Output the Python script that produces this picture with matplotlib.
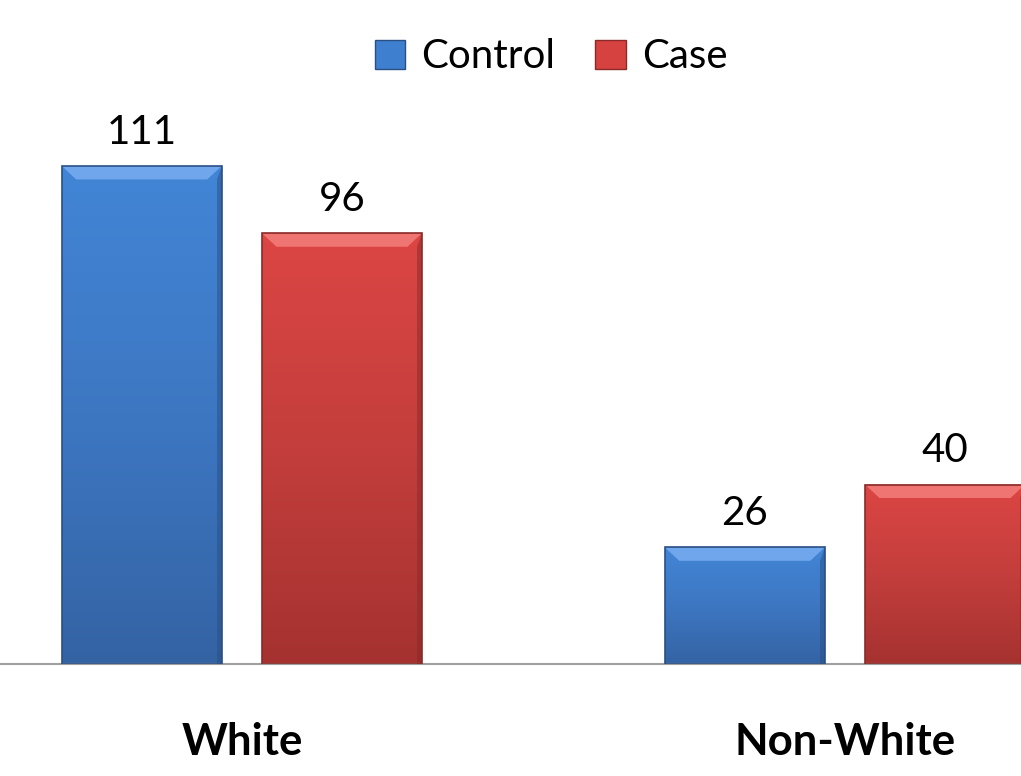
import numpy as np
import matplotlib.pyplot as plt
from matplotlib.patches import Patch, Polygon
from matplotlib.colors import LinearSegmentedColormap

categories = ['White', 'Non-White']
control = [111, 26]
case = [96, 40]

plt.rcParams['font.family'] = ['Lato', 'DejaVu Sans']

fig = plt.figure(figsize=(10.21, 7.76), dpi=100)
ax = fig.add_axes([0, 0.1443, 1, 0.8557])

x = np.arange(len(categories))
width = 0.265
off = 0.166

blue_cmap = LinearSegmentedColormap.from_list('b', ['#3463a4', '#3d77c2', '#4285d6'])
red_cmap = LinearSegmentedColormap.from_list('r', ['#a53230', '#c33e3c', '#dc4644'])


def fancy_bars(xs, vals, cmap, edge, light):
    bars = ax.bar(xs, vals, width, color='none', edgecolor='none')
    grad = np.linspace(0, 1, 256).reshape(-1, 1)
    for b in bars:
        x0, y0 = b.get_x(), b.get_y()
        w, h = b.get_width(), b.get_height()
        im = ax.imshow(grad, cmap=cmap, origin='lower', aspect='auto',
                       extent=[x0, x0 + w, y0, y0 + h], zorder=2)
        im.set_clip_path(b)
        # bevel on top
        bh = 3.0
        bw = w * 0.09
        ax.add_patch(Polygon([[x0, y0 + h], [x0 + w, y0 + h],
                              [x0 + w - bw, y0 + h - bh], [x0 + bw, y0 + h - bh]],
                             closed=True, facecolor=light, edgecolor='none', zorder=3))
        # darker right side
        ax.add_patch(Polygon([[x0 + w, y0 + h], [x0 + w, y0],
                              [x0 + w - w * 0.03, y0], [x0 + w - w * 0.03, y0 + h - bh]],
                             closed=True, facecolor=edge, alpha=0.5, edgecolor='none', zorder=3))
        ax.add_patch(plt.Rectangle((x0, y0), w, h, fill=False, edgecolor=edge,
                                   linewidth=1.2, zorder=4))
    return bars


b1 = fancy_bars(x - off, control, blue_cmap, '#2a4f85', '#6fa6ec')
b2 = fancy_bars(x + off, case, red_cmap, '#8a2a28', '#ef7573')

for bars in (b1, b2):
    for b in bars:
        ax.text(b.get_x() + b.get_width() / 2, b.get_height() + 3.4, str(int(b.get_height())),
                ha='center', va='bottom', fontsize=29, color='black')

ax.set_xlim(-0.401, 1.292)
ax.set_ylim(0, 148)
ax.set_xticks(x)
ax.set_xticklabels(categories, fontsize=31.5, fontweight='bold')
ax.tick_params(axis='x', length=0, pad=42)
ax.set_yticks([])
for s in ['top', 'right', 'left']:
    ax.spines[s].set_visible(False)
ax.spines['bottom'].set_color('#a0a0a0')
ax.spines['bottom'].set_linewidth(1.5)

handles = [Patch(facecolor='#3f7fcf', edgecolor='#2a4f85', label='Control'),
           Patch(facecolor='#d54240', edgecolor='#8a2a28', label='Case')]
fig.legend(handles=handles, loc='center', bbox_to_anchor=(551 / 1021, 1 - 57 / 776),
           ncol=2, frameon=False, fontsize=29, handlelength=0.75, handleheight=0.75,
           handletextpad=0.4, columnspacing=1.0)

fig.savefig('out.png', dpi=100)
